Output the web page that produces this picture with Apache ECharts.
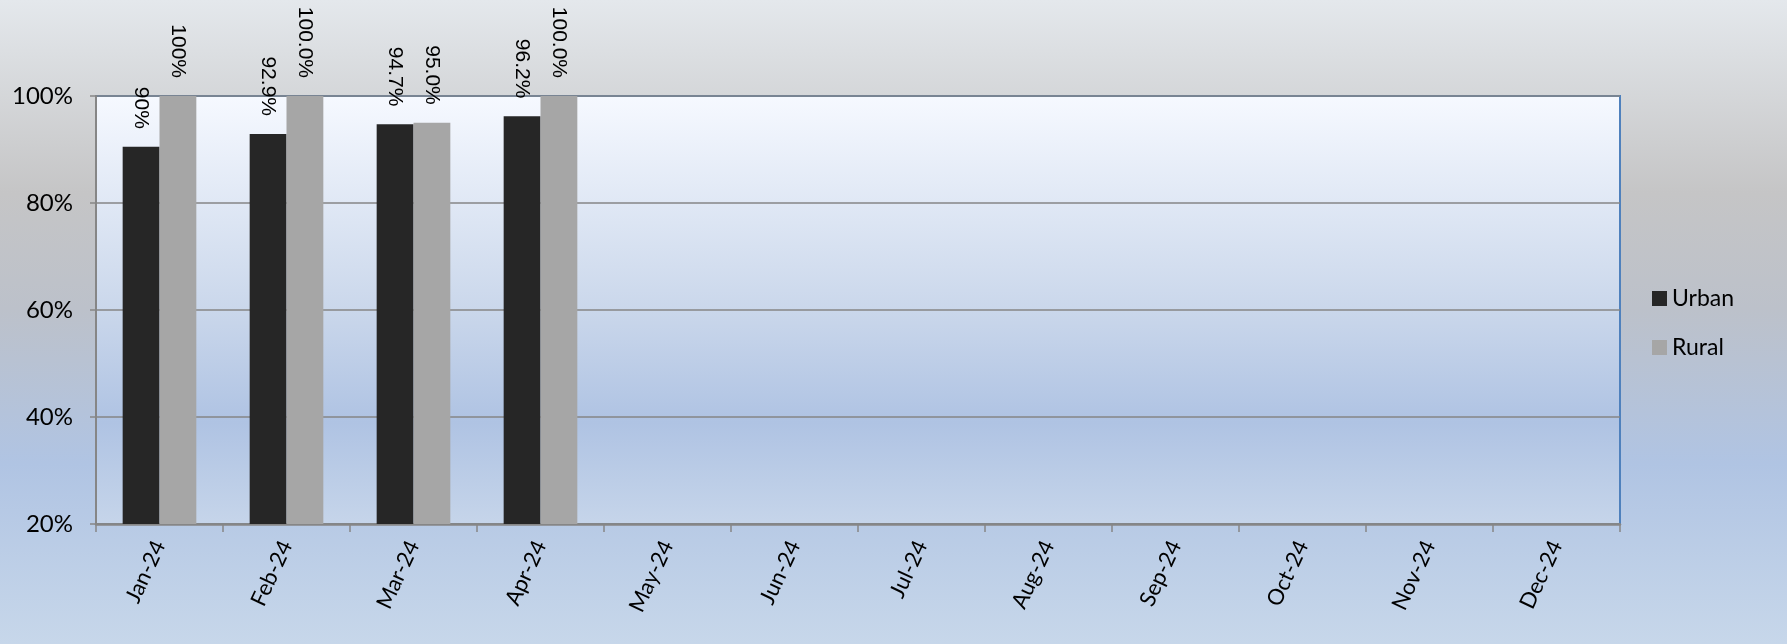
<!DOCTYPE html>
<html>
<head>
<meta charset="utf-8">
<script src="https://cdn.jsdelivr.net/npm/echarts@6/dist/echarts.min.js"></script>
<style>
  html, body { margin: 0; padding: 0; }
  #chart { width: 1787px; height: 644px; }
</style>
</head>
<body>
<div id="chart"></div>
<script>
// chart data
const months = ["Jan-24", "Feb-24", "Mar-24", "Apr-24", "May-24", "Jun-24",
  "Jul-24", "Aug-24", "Sep-24", "Oct-24", "Nov-24", "Dec-24"];
const urban = [90.5, 92.9, 94.7, 96.2, 0, 0, 0, 0, 0, 0, 0, 0];
const rural = [100, 100, 95.0, 100, 0, 0, 0, 0, 0, 0, 0, 0];
const urbanLabels = ["90%", "92.9%", "94.7%", "96.2%", "", "", "", "", "", "", "", ""];
const ruralLabels = ["100%", "100.0%", "95.0%", "100.0%", "", "", "", "", "", "", "", ""];

const chart = echarts.init(document.getElementById("chart"));

const barLabel = (texts) => ({
  show: true,
  position: "top",
  rotate: -90,
  align: "right",
  verticalAlign: "middle",
  distance: 18,
  fontFamily: "Liberation Sans",
  fontSize: 21,
  color: "#000",
  formatter: (p) => texts[p.dataIndex],
});

const option = {
  animation: false,
  backgroundColor: new echarts.graphic.LinearGradient(0, 0, 0, 1, [
    { offset: 0, color: "#e4e8ec" },
    { offset: 0.3, color: "#c5c5c6" },
    { offset: 0.48, color: "#bcc1ca" },
    { offset: 0.72, color: "#b0c4e3" },
    { offset: 1, color: "#c7d7ea" },
  ]),
  grid: {
    left: 96,
    right: 167,
    top: 96,
    bottom: 120,
    outerBoundsMode: "none",
    show: true,
    borderColor: "#4f81bd",
    borderWidth: 2,
    backgroundColor: new echarts.graphic.LinearGradient(0, 0, 0, 1, [
      { offset: 0, color: "#f6f9ff" },
      { offset: 0.5, color: "#cad7eb" },
      { offset: 0.76, color: "#afc3e3" },
      { offset: 1, color: "#c6d5ea" },
    ]),
  },
  legend: {
    orient: "vertical",
    left: 1647,
    top: 282,
    icon: "rect",
    itemWidth: 15,
    itemHeight: 15,
    itemGap: 26,
    textStyle: { fontFamily: "Lato", fontSize: 23, color: "#000" },
    data: ["Urban", "Rural"],
  },
  xAxis: {
    type: "category",
    data: months,
    axisLine: { lineStyle: { color: "#868686", width: 2.5 } },
    axisTick: { show: true, length: 8, lineStyle: { color: "#868686", width: 1.5 } },
    axisLabel: {
      rotate: 65,
      margin: 18,
      fontFamily: "Lato",
      fontSize: 22,
      color: "#000",
    },
  },
  yAxis: {
    type: "value",
    min: 20,
    max: 100,
    interval: 20,
    axisLine: { show: true, lineStyle: { color: "#868686", width: 2 } },
    axisTick: { show: true, length: 6, lineStyle: { color: "#868686", width: 1.5 } },
    splitLine: { lineStyle: { color: "#868686", width: 1.5 } },
    axisLabel: {
      formatter: "{value}%",
      margin: 23,
      fontFamily: "Lato",
      fontSize: 24,
      color: "#000",
    },
  },
  series: [
    {
      name: "Urban",
      type: "bar",
      data: urban,
      barGap: "0%",
      barCategoryGap: "42%",
      itemStyle: { color: "#262626" },
      label: barLabel(urbanLabels),
    },
    {
      name: "Rural",
      type: "bar",
      data: rural,
      itemStyle: { color: "#a6a6a6" },
      label: barLabel(ruralLabels),
    },
  ],
};

chart.setOption(option);
</script>
</body>
</html>
